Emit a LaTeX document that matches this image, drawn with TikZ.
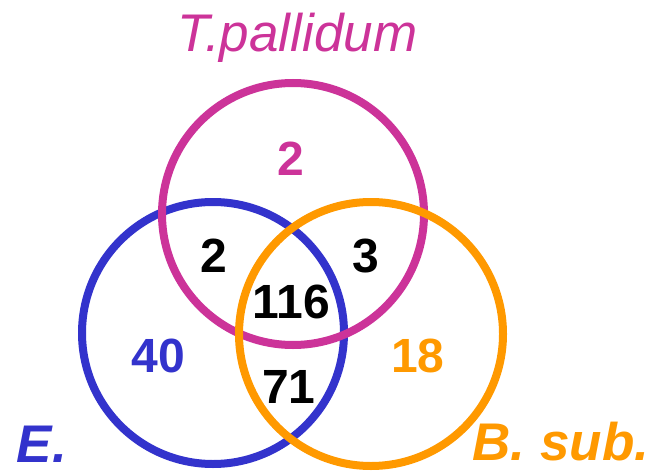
\documentclass[tikz,border=0pt]{standalone}
\usepackage{fontspec}
\setmainfont{Liberation Sans}
\definecolor{cmag}{RGB}{204,51,153}
\definecolor{cblue}{RGB}{51,51,204}
\definecolor{corange}{RGB}{255,153,0}
\begin{document}
\begin{tikzpicture}[x=1pt,y=1pt,
  ring/.style={line width=8pt},
  num/.style={anchor=base,inner sep=0pt,text depth=0pt,font=\fontsize{48}{48}\selectfont\bfseries},
  lab/.style={anchor=base,inner sep=0pt,text depth=0pt}]
\useasboundingbox (0,0) rectangle (655,472);
\coordinate (cM) at (293,258);
\coordinate (cB) at (213,139);
\coordinate (cO) at (371,138);
\draw[ring,cblue] (cB) circle (131);
\draw[ring,cmag] (cM) circle (131);
\draw[ring,corange] (cO) circle (132);
\node[lab,text=cmag,font=\fontsize{53}{53}\selectfont\itshape] (tp) at (297.5,420) {T.pallidum};
\node[lab,text=cblue,font=\fontsize{53}{53}\selectfont\bfseries\itshape] (e) at (42,10) {E.};
\node[lab,text=corange,font=\fontsize{53}{53}\selectfont\bfseries\itshape] (bs) at (561,12) {B. sub.};
\node[num,text=cmag] (n2m) at (291,297) {2};
\node[num] (n2) at (214,200) {2};
\node[num] (n3) at (366,200) {3};
\node[num] (n116) at (291,154) {116};
\node[num,text=cblue] (n40) at (158.5,100) {40};
\node[num,text=corange] (n18) at (418,100) {18};
\node[num] (n71) at (289,69) {71};
\end{tikzpicture}
\end{document}
